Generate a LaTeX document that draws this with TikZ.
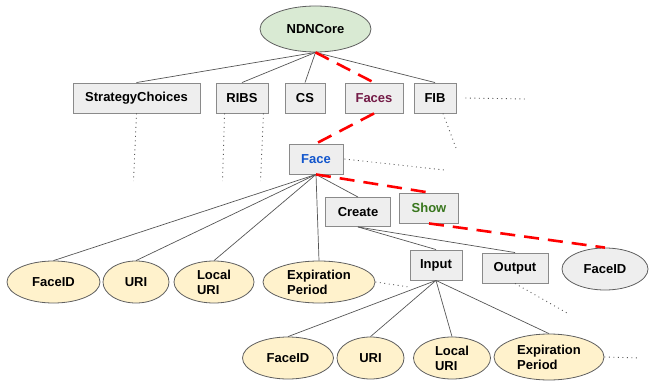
\documentclass[tikz,border=0pt]{standalone}
\usepackage{fontspec}
\setmainfont{Liberation Sans}
\usetikzlibrary{shapes.geometric}
\definecolor{boxfill}{HTML}{EEEEEE}
\definecolor{boxdraw}{HTML}{8A8A8A}
\definecolor{cream}{HTML}{FFF2CC}
\definecolor{ovaldraw}{HTML}{5F5F5F}
\definecolor{rootfill}{HTML}{D9EAD3}
\definecolor{linec}{HTML}{555555}
\definecolor{facescol}{HTML}{741B47}
\definecolor{facecol}{HTML}{1155CC}
\definecolor{showcol}{HTML}{38761D}
\definecolor{redc}{HTML}{FF0000}
\begin{document}
\begin{tikzpicture}[x=1pt,y=-1pt,
  every node/.style={font=\bfseries\fontsize{13}{15}\selectfont},
  box/.style={draw=boxdraw, fill=boxfill, line width=0.9pt, minimum height=30pt, inner sep=0pt},
  oval/.style={ellipse, draw=ovaldraw, fill=cream, line width=0.8pt, inner sep=0pt, align=left},
  conn/.style={draw=linec, line width=0.7pt},
  dots/.style={draw=linec, line width=0.9pt, dash pattern=on 0.9pt off 3.6pt},
  reddash/.style={draw=redc, line width=2.6pt, dash pattern=on 15pt off 9pt}
]
\useasboundingbox (0,0) rectangle (652,387);

% root
\node[ellipse, draw=ovaldraw, fill=rootfill, line width=0.8pt, minimum width=111pt, minimum height=46pt, inner sep=0pt] (root) at (315.5,29) {NDNCore};

% second row
\node[box, minimum width=127pt] (sc) at (136.5,98) {StrategyChoices};
\node[box, minimum width=52pt] (ribs) at (242,98) {RIBS};
\node[box, minimum width=40pt] (cs) at (305,98) {CS};
\node[box, minimum width=58pt, text=facescol] (faces) at (374,98) {Faces};
\node[box, minimum width=42pt] (fib) at (435,98) {FIB};

% face
\node[box, minimum width=54pt, text=facecol] (face) at (316,159) {Face};
\node[box, minimum width=65pt, minimum height=29pt] (create) at (358,212) {Create};
\node[box, minimum width=59pt, text=showcol] (show) at (429,208) {Show};

% first ellipse row
\node[oval, minimum width=93pt, minimum height=42pt] (fid1) at (53.5,282) {FaceID};
\node[oval, minimum width=66pt, minimum height=42pt] (uri1) at (136,282) {URI};
\node[oval, minimum width=80pt, minimum height=42pt] (luri1) at (214,282) {Local\\URI};
\node[oval, minimum width=112pt, minimum height=42pt] (exp1) at (319,282) {Expiration\\Period};

% input / output
\node[box, minimum width=52pt] (input) at (436,265) {Input};
\node[box, minimum width=66pt] (output) at (515,268) {Output};
\node[ellipse, draw=ovaldraw, fill=boxfill, line width=0.8pt, minimum width=86pt, minimum height=42pt, inner sep=0pt] (fid3) at (605,269) {FaceID};

% bottom row
\node[oval, minimum width=91pt, minimum height=42pt] (fid2) at (288,358) {FaceID};
\node[oval, minimum width=67pt, minimum height=42pt] (uri2) at (370.5,358) {URI};
\node[oval, minimum width=77pt, minimum height=42pt] (luri2) at (452,358) {Local\\URI};
\node[oval, minimum width=110pt, minimum height=46pt] (exp2) at (549,357) {Expiration\\Period};

% dotted free ends
\coordinate (scE) at (133.5,181);
\coordinate (ribsE1) at (222.5,181);
\coordinate (ribsE2) at (260.5,181);
\coordinate (fibE1) at (526,99);
\coordinate (fibE2) at (456,148);
\coordinate (faceE) at (444,170);
\coordinate (exp1E) at (409,287);
\coordinate (outE) at (567,313);
\coordinate (exp2E) at (640,358);

% solid connectors
\draw[conn] (root.south) -- (sc.north);
\draw[conn] (root.south) -- (ribs.north);
\draw[conn] (root.south) -- (cs.north);
\draw[conn] (root.south) -- (fib.north);
\draw[conn] (face.south) -- (fid1.north);
\draw[conn] (face.south) -- (uri1.north);
\draw[conn] (face.south) -- (luri1.north);
\draw[conn] (face.south) -- (exp1.north);
\draw[conn] (face.south) -- (create.north);
\draw[conn] (create.south) -- (input.north);
\draw[conn] (create.south) -- (output.north);
\draw[conn] (input.south) -- (fid2.north);
\draw[conn] (input.south) -- (uri2.north);
\draw[conn] (input.south) -- (luri2.north);
\draw[conn] (input.south) -- (exp2.north);

% dotted
\draw[dots] (sc.south) -- (scE);
\draw[dots] ([xshift=9pt]ribs.south west) -- (ribsE1);
\draw[dots] ([xshift=-5pt]ribs.south east) -- (ribsE2);
\draw[dots] ([xshift=9pt]fib.east) -- (fibE1);
\draw[dots] ([xshift=8pt]fib.south) -- (fibE2);
\draw[dots] ([xshift=1pt]face.east) -- (faceE);
\draw[dots] (exp1.east) -- (exp1E);
\draw[dots] (output.south) -- (outE);
\draw[dots] (exp2.east) -- (exp2E);

% red dashed path
\draw[reddash] (root.south) -- (faces.north);
\draw[reddash] (faces.south) -- (face.north);
\draw[reddash] (face.south) -- (show.north);
\draw[reddash] (show.south) -- (fid3.north);
\end{tikzpicture}
\end{document}
